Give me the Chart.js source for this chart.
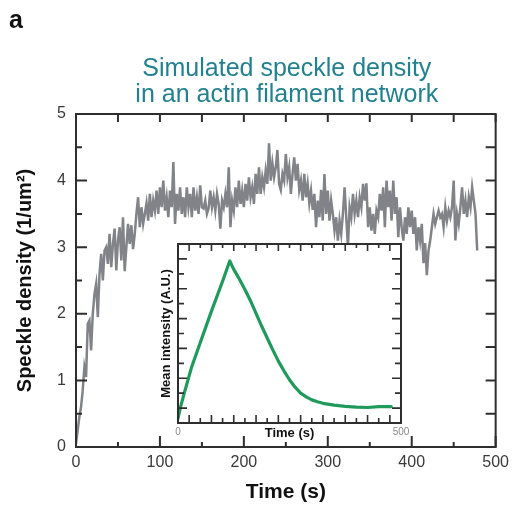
<!DOCTYPE html>
<html><head><meta charset="utf-8">
<script src="https://cdn.jsdelivr.net/npm/chart.js@4.4.1/dist/chart.umd.min.js"></script>
<style>
html,body{margin:0;padding:0;background:#fff;}
#wrap{position:relative;width:515px;height:505px;}
#main{position:absolute;left:0;top:0;width:515px;height:505px;}
#inset{position:absolute;left:140px;top:230px;width:275px;height:220px;}
</style>
</head><body>
<div id="wrap"><canvas id="main" width="515" height="505"></canvas><canvas id="inset" width="275" height="220"></canvas></div>
<script>
// ---- data ----
const panelLabel = "a";
const titleLines = ["Simulated speckle density", "in an actin filament network"];
const xTitle = "Time (s)";
const yTitle = "Speckle density (1/um\u00B2)";
const insetXTitle = "Time (s)";
const insetYTitle = "Mean intensity (A.U.)";

const speckleTimes = [0,2,4,6,8,10,12,14,16,18,20,22,24,26,28,30,32,34,36,38,40,42,44,46,48,50,52,54,56,58,60,62,64,66,68,70,72,74,76,78,80,82,84,86,88,90,92,94,96,98,100,102,104,106,108,110,112,114,116,118,120,122,124,126,128,130,132,134,136,138,140,142,144,146,148,150,152,154,156,158,160,162,164,166,168,170,172,174,176,178,180,182,184,186,188,190,192,194,196,198,200,202,204,206,208,210,212,214,216,218,220,222,224,226,228,230,232,234,236,238,240,242,244,246,248,250,252,254,256,258,260,262,264,266,268,270,272,274,276,278,280,282,284,286,288,290,292,294,296,298,300,302,304,306,308,310,312,314,316,318,320,322,324,326,328,330,332,334,336,338,340,342,344,346,348,350,352,354,356,358,360,362,364,366,368,370,372,374,376,378,380,382,384,386,388,390,392,394,396,398,400,402,404,406,408,410,412,414,416,418,420,422,424,426,428,430,432,434,436,438,440,442,444,446,448,450,452,454,456,458,460,462,464,466,468,470,472,474,476,478];
const speckleValues = [
0.05,0.25,0.45,0.6,0.85,1.2,1.05,1.85,1.9,1.45,
2.0,2.3,2.45,1.95,2.6,2.9,2.5,2.95,3.0,2.75,
3.2,2.7,3.05,3.28,2.65,3.1,3.3,2.8,3.45,2.64,
3.0,3.35,3.05,3.33,2.97,3.2,3.5,3.75,3.3,3.6,
3.35,3.5,3.66,3.4,3.8,3.45,3.7,3.55,3.85,3.5,
3.9,3.6,4.0,3.55,3.75,3.45,3.85,3.6,4.28,3.35,
3.8,3.55,3.9,3.5,3.75,3.45,3.9,3.6,3.8,3.45,
3.9,3.55,3.75,3.5,3.93,3.6,3.58,3.7,3.5,3.58,
3.85,3.6,3.75,3.55,3.8,3.65,3.28,3.7,3.6,3.8,
3.6,4.2,3.3,3.7,3.55,3.9,3.6,4.0,3.65,3.85,
3.6,3.95,3.7,4.05,3.75,3.9,3.65,4.1,3.8,4.2,
3.8,4.05,3.9,4.15,3.95,4.56,4.0,4.26,4.05,4.2,
4.46,3.95,3.86,4.1,4.0,4.4,4.05,4.2,3.8,4.1,
4.35,4.0,4.25,3.86,4.0,3.7,4.1,3.75,3.95,3.66,
3.85,3.56,3.8,3.3,3.7,3.45,3.86,3.4,4.1,3.5,
3.85,3.4,3.7,3.5,3.25,3.45,3.1,3.4,3.2,3.5,
3.9,3.45,3.0,3.6,3.45,3.8,3.5,3.7,3.45,3.75,
3.6,3.95,3.7,3.96,3.3,3.6,3.25,3.5,3.2,3.55,
3.45,3.8,3.55,3.9,3.3,4.0,3.6,3.85,3.4,4.0,
3.5,3.75,3.15,3.6,3.3,3.1,3.45,3.2,3.6,3.3,
3.55,3.2,3.45,2.95,3.3,3.1,3.35,2.76,3.06,2.58,
2.95,3.1,3.3,3.5,3.35,3.45,3.55,3.45,3.5,3.3,
3.6,3.4,3.55,3.45,3.6,4.0,3.1,3.5,3.35,3.6,
3.9,3.5,3.7,3.45,3.75,3.6,3.9,3.7,3.5,2.95];

const insetTimes  = [0, 5, 15, 30, 50, 75, 100, 116, 125, 137.5, 150, 162.5, 175, 187.5, 200, 212.5, 225, 237.5, 250, 262.5, 275, 287.5, 300, 312.5, 325, 350, 375, 400, 425, 450, 478];
const insetValues = [0.3, 1.0, 2.1, 3.7, 5.4, 7.5, 9.5, 10.86, 10.3, 9.65, 8.95, 8.2, 7.35, 6.5, 5.7, 4.9, 4.15, 3.5, 2.9, 2.4, 2.0, 1.75, 1.55, 1.42, 1.32, 1.2, 1.12, 1.06, 1.04, 1.1, 1.1];

const xTickValues = [0,50,100,150,200,250,300,350,400,450,500];
const yTickValues = [0,0.5,1,1.5,2,2.5,3,3.5,4,4.5,5];
const insetXTickValues = [0,25,50,75,100,125,150,175,200,225,250,275,300,325,350,375,400,425,450,475,500];
const insetYTickValues = [1,2,3,4,5,6,7,8,9,10,11];

// ---- styles ----
const FONT = "'Liberation Sans', Arial, Helvetica, sans-serif";
const FRAME = '#2e2e2e';

function tickMarks(ctx, scale, vals, axis, side, lenFn, area) {
  ctx.beginPath();
  vals.forEach((v, i) => {
    const p = scale.getPixelForValue(v);
    const L = lenFn(v, i);
    if (axis === 'x') {
      if (side === 'bottom') { ctx.moveTo(p, area.bottom); ctx.lineTo(p, area.bottom - L); }
      else { ctx.moveTo(p, area.top); ctx.lineTo(p, area.top + L); }
    } else {
      if (side === 'left') { ctx.moveTo(area.left, p); ctx.lineTo(area.left + L, p); }
      else { ctx.moveTo(area.right, p); ctx.lineTo(area.right - L, p); }
    }
  });
  ctx.stroke();
}

const mainDeco = {
  id: 'mainDeco',
  afterDraw(chart) {
    const {ctx, chartArea: a, scales: {x, y}} = chart;
    ctx.save();
    ctx.strokeStyle = FRAME; ctx.lineWidth = 2;
    ctx.strokeRect(a.left, a.top, a.right - a.left, a.bottom - a.top);
    tickMarks(ctx, x, xTickValues, 'x', 'bottom', v => v % 100 === 0 ? 11 : 5, a);
    tickMarks(ctx, x, xTickValues, 'x', 'top', v => 8, a);
    tickMarks(ctx, y, yTickValues, 'y', 'left', v => Number.isInteger(v) ? 11 : 6, a);
    tickMarks(ctx, y, yTickValues, 'y', 'right', v => 10, a);
    ctx.fillStyle = '#111';
    ctx.font = "bold 25px " + FONT;
    ctx.textAlign = 'left'; ctx.textBaseline = 'alphabetic';
    ctx.fillText(panelLabel, 9, 28);
    ctx.fillStyle = '#22808f';
    ctx.font = "25px " + FONT;
    ctx.textAlign = 'center';
    const cx = (a.left + a.right) / 2 + 1;
    ctx.fillText(titleLines[0], cx, 76);
    ctx.fillText(titleLines[1], cx, 102);
    ctx.restore();
  }
};

new Chart(document.getElementById('main'), {
  type: 'line',
  data: {
    datasets: [{
      data: speckleTimes.map((t, i) => ({x: t, y: speckleValues[i]})),
      borderColor: '#828388', borderWidth: 2.5, pointRadius: 0, tension: 0, fill: false
    }]
  },
  options: {
    responsive: false, animation: false, devicePixelRatio: 1,
    layout: {padding: {top: 114, right: 17, left: 0, bottom: 0}},
    plugins: {legend: {display: false}, tooltip: {enabled: false}, title: {display: false}},
    scales: {
      x: {
        type: 'linear', min: 0, max: 500,
        afterFit: s => { s.height = 58; },
        grid: {display: false, drawTicks: false}, border: {display: false},
        ticks: {stepSize: 100, padding: 6, color: '#3a3a3a', font: {family: FONT, size: 16}, maxRotation: 0},
        title: {display: true, text: xTitle, color: '#111', font: {family: FONT, size: 21, weight: 'bold'}, padding: {top: 0, bottom: 0}}
      },
      y: {
        type: 'linear', min: 0, max: 5,
        afterFit: s => { s.width = 76; },
        grid: {display: false, drawTicks: false}, border: {display: false},
        ticks: {stepSize: 1, padding: 10, color: '#3a3a3a', font: {family: FONT, size: 16}},
        title: {display: true, text: yTitle, color: '#111', font: {family: FONT, size: 20, weight: 'bold'}, padding: {top: 13, bottom: 0}}
      }
    }
  },
  plugins: [mainDeco]
});

const insetDeco = {
  id: 'insetDeco',
  beforeDatasetsDraw(chart) {
    const {ctx, chartArea: a} = chart;
    ctx.save(); ctx.fillStyle = '#fff';
    ctx.fillRect(a.left, a.top, a.right - a.left, a.bottom - a.top);
    ctx.restore();
  },
  afterDraw(chart) {
    const {ctx, chartArea: a, scales: {x, y}} = chart;
    ctx.save();
    ctx.strokeStyle = FRAME; ctx.lineWidth = 2;
    ctx.strokeRect(a.left, a.top, a.right - a.left, a.bottom - a.top);
    ctx.lineWidth = 1.6;
    tickMarks(ctx, x, insetXTickValues, 'x', 'bottom', (v, i) => i % 2 === 1 ? 8 : 5, a);
    tickMarks(ctx, x, insetXTickValues, 'x', 'top', (v, i) => i % 2 === 1 ? 7 : 4, a);
    tickMarks(ctx, y, insetYTickValues, 'y', 'left', (v, i) => i % 2 === 0 ? 9 : 6, a);
    tickMarks(ctx, y, insetYTickValues, 'y', 'right', (v, i) => i % 2 === 0 ? 9 : 6, a);
    ctx.restore();
  }
};

new Chart(document.getElementById('inset'), {
  type: 'line',
  data: {
    datasets: [{
      data: insetTimes.map((t, i) => ({x: t, y: insetValues[i]})),
      borderColor: '#1f9a5c', borderWidth: 3.2, pointRadius: 0, tension: 0, fill: false,
      borderJoinStyle: 'round', borderCapStyle: 'round'
    }]
  },
  options: {
    responsive: false, animation: false, devicePixelRatio: 1,
    layout: {padding: {top: 14, right: 14, left: 0, bottom: 0}},
    plugins: {legend: {display: false}, tooltip: {enabled: false}},
    scales: {
      x: {
        type: 'linear', min: 0, max: 500,
        afterFit: s => { s.height = 27; },
        grid: {display: false, drawTicks: false}, border: {display: false},
        ticks: {stepSize: 500, padding: 3, color: '#8a8a8a', font: {family: FONT, size: 10}, maxRotation: 0},
        title: {display: true, text: insetXTitle, color: '#111', font: {family: FONT, size: 13, weight: 'bold'}, padding: {top: 0, bottom: 9}}
      },
      y: {
        type: 'linear', min: 0, max: 12,
        afterFit: s => { s.width = 38; },
        grid: {display: false, drawTicks: false}, border: {display: false},
        ticks: {display: false},
        title: {display: true, text: insetYTitle, color: '#111', font: {family: FONT, size: 13, weight: 'bold'}, padding: {top: 19, bottom: 0}}
      }
    }
  },
  plugins: [insetDeco]
});
</script>
</body></html>
